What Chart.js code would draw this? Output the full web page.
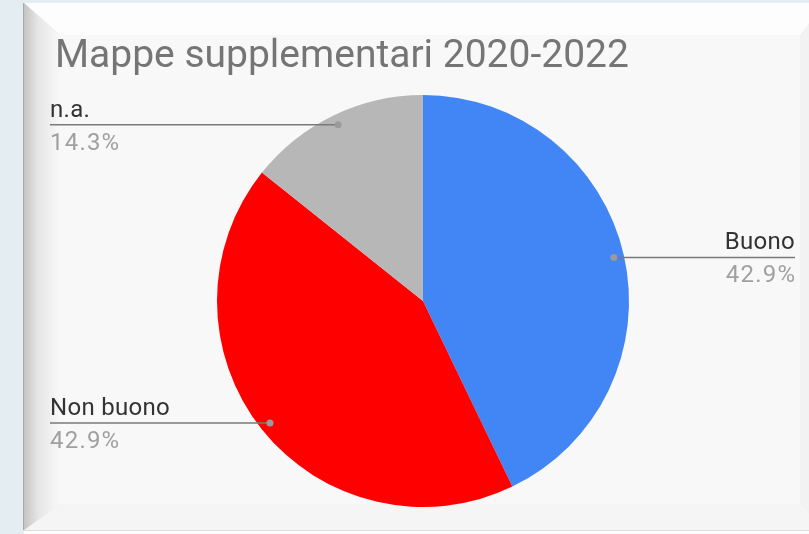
<!DOCTYPE html>
<html>
<head>
<meta charset="utf-8">
<script src="https://cdn.jsdelivr.net/npm/chart.js@4.4.1/dist/chart.umd.min.js"></script>
<style>
  html, body { margin: 0; padding: 0; }
  body { width: 809px; height: 534px; background: #e4edf1; position: relative; overflow: hidden; }
  /* picture-frame style panel behind the chart */
  .frame {
    position: absolute; left: 24px; top: 3px; width: 800px; height: 527px;
    box-sizing: border-box; background: #f8f8f8;
    border-style: solid;
    border-width: 32px 24px 26px 36px;
    border-color: #fdfdfd #f2f2f2 #f5f5f5 #e2e2e2;
    box-shadow: -1px 0 0 #a9a9a9, 0 1px 0 #dcdcdc;
  }
  .bevel-left {
    position: absolute; left: 24px; top: 3px; width: 36px; height: 527px;
    background: linear-gradient(to right, #c4c4c4, #e6e6e6 40%, #f8f8f8);
    clip-path: polygon(0 0, 36px 32px, 36px 501px, 0 527px);
  }
  .bottom-strip { position: absolute; left: 24px; top: 531px; width: 800px; height: 3px; background: #fdfdfd; }
  #chart { position: absolute; left: 0; top: 0; }
</style>
</head>
<body>
<div class="frame"></div>
<div class="bevel-left"></div>
<div class="bottom-strip"></div>
<canvas id="chart" width="809" height="534"></canvas>
<script>
// Slice data
const categories = ['Buono', 'Non buono', 'n.a.'];
const counts = [3, 3, 1];
const sliceColors = ['#4285f4', '#ff0000', '#b7b7b7'];
const chartTitle = 'Mappe supplementari 2020-2022';

const LABEL_FONT = '24px Roboto, Arial, sans-serif';

// Leader lines with name above and percentage below, like the Sheets pie labels
const leaderLabels = {
    id: 'leaderLabels',
    afterDatasetsDraw(chart) {
        const ctx = chart.ctx;
        const meta = chart.getDatasetMeta(0);
        const total = counts.reduce((a, b) => a + b, 0);
        const leftX = 50, rightX = 795;

        meta.data.forEach((arc, i) => {
            const p = arc.getProps(['x', 'y', 'startAngle', 'endAngle', 'outerRadius'], true);
            const mid = (p.startAngle + p.endAngle) / 2;
            const r = p.outerRadius * 0.95;
            const px = p.x + Math.cos(mid) * r;
            const py = p.y + Math.sin(mid) * r;
            const onRight = Math.cos(mid) > 0;
            const endX = onRight ? rightX : leftX;

            ctx.save();
            ctx.strokeStyle = '#7a7a7a';
            ctx.lineWidth = 1.5;
            ctx.beginPath();
            ctx.moveTo(px, py);
            ctx.lineTo(endX, py);
            ctx.stroke();

            ctx.fillStyle = '#9a9a9a';
            ctx.beginPath();
            ctx.arc(px, py, 3.5, 0, Math.PI * 2);
            ctx.fill();

            const pct = (counts[i] / total * 100).toFixed(1) + '%';
            ctx.font = LABEL_FONT;
            ctx.textAlign = onRight ? 'right' : 'left';
            ctx.textBaseline = 'alphabetic';
            ctx.letterSpacing = '0.3px';
            ctx.fillStyle = '#333333';
            ctx.fillText(categories[i], endX, py - 8);
            ctx.letterSpacing = '1.2px';
            ctx.fillStyle = '#a0a0a0';
            ctx.fillText(pct, endX + (onRight ? 1.2 : 0), py + 25);
            ctx.restore();
        });
    }
};

new Chart(document.getElementById('chart'), {
    type: 'pie',
    data: {
        labels: categories,
        datasets: [{
            data: counts,
            backgroundColor: sliceColors,
            borderWidth: 0
        }]
    },
    options: {
        responsive: false,
        animation: false,
        layout: { padding: { left: 55, right: 18, top: 0, bottom: 27 } },
        plugins: {
            legend: { display: false },
            tooltip: { enabled: false },
            title: {
                display: true,
                text: chartTitle,
                align: 'start',
                color: '#757575',
                font: { family: 'Roboto, Arial, sans-serif', size: 39, weight: 'normal', lineHeight: 1.2 },
                padding: { top: 34, bottom: 14.2 }
            }
        }
    },
    plugins: [leaderLabels]
});
</script>
</body>
</html>
